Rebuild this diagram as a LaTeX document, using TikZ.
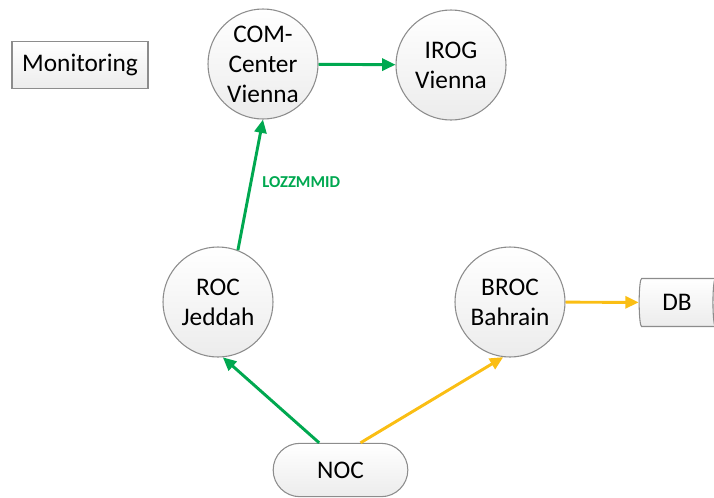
\documentclass[tikz,border=0pt]{standalone}
\usepackage{fontspec}
\setmainfont{Carlito}
\usetikzlibrary{shapes.geometric,shapes.misc,arrows.meta}
\definecolor{grn}{RGB}{0,168,80}
\definecolor{ylw}{RGB}{250,190,20}
\definecolor{bordergray}{RGB}{140,140,140}
\tikzset{
  base/.style={draw=bordergray, line width=0.8pt, top color=white, bottom color=gray!15,
    font=\fontsize{19}{22.5}\selectfont, align=center, inner sep=0pt},
  circ/.style={base, circle, minimum size=82.5pt},
  gline/.style={draw=grn, line width=2.2pt, -{Triangle[length=10pt,width=9pt]}},
  yline/.style={draw=ylw, line width=2.2pt, -{Triangle[length=10pt,width=9pt]}},
}
\begin{document}
\begin{tikzpicture}[x=0.75pt,y=-0.75pt]
\clip (0,0) rectangle (714,497);
\node[base, rectangle, minimum width=102pt, minimum height=35pt] (mon) at (80,65) {Monitoring};
\node[circ] (com) at (263,64) {COM-\\Center\\Vienna};
\node[circ] (irog) at (451,65) {IROG\\Vienna};
\node[circ] (roc) at (218,302) {ROC\\Jeddah};
\node[circ] (broc) at (510,302) {BROC\\Bahrain};
\node[base, cylinder, shape aspect=0.3, minimum width=36pt, minimum height=59pt] (db) at (677,302.5) {DB};
\node[base, rounded rectangle, minimum width=101pt, minimum height=40pt] (noc) at (340.5,470) {NOC};
\node[font=\fontsize{12.5}{14}\selectfont\bfseries, text=grn, anchor=west, inner sep=0pt] (lbl) at (262,182) {LOZZMMID};
\draw[gline] (roc.69) -- (com.south);
\draw[gline] (com) -- (irog);
\draw[gline] ([xshift=-16pt]noc.north) -- (roc.-85);
\draw[yline] ([xshift=15pt]noc.north) -- (broc.263);
\draw[yline] (broc) -- (db);
\end{tikzpicture}
\end{document}
